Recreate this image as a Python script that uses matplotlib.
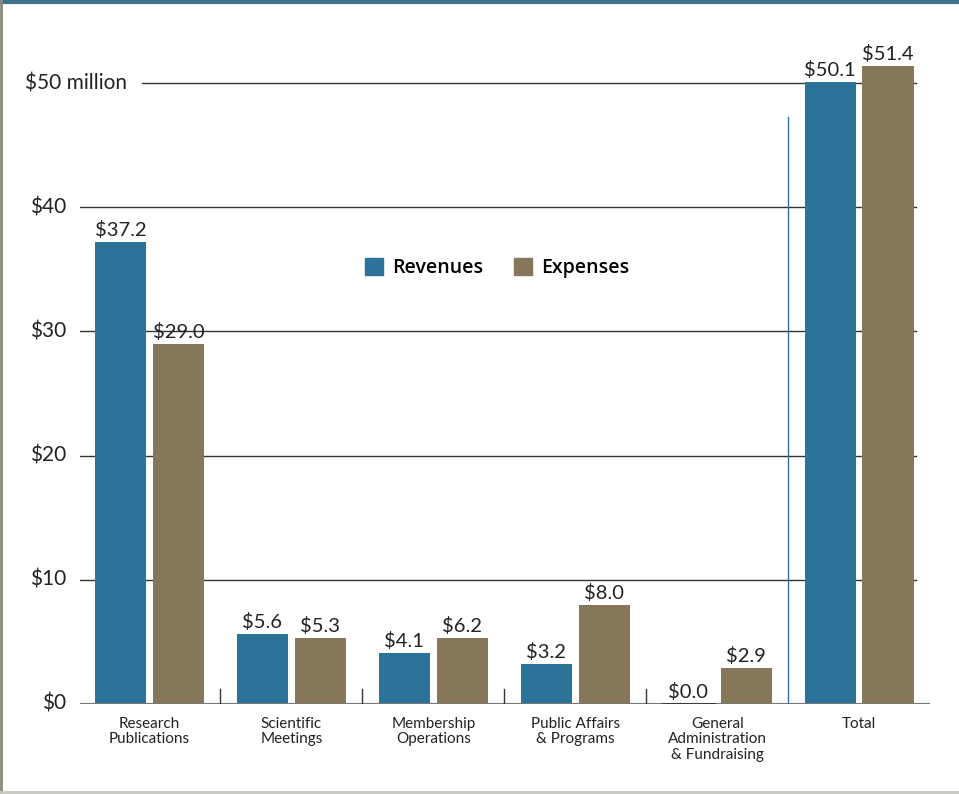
import numpy as np
import matplotlib.pyplot as plt
from matplotlib.patches import Rectangle
from matplotlib.lines import Line2D

# data (millions of dollars)
categories = ['Research\nPublications', 'Scientific\nMeetings', 'Membership\nOperations',
              'Public Affairs\n& Programs', 'General\nAdministration\n& Fundraising', 'Total']
revenues = [37.2, 5.6, 4.1, 3.2, 0.0, 50.1]
expenses = [29.0, 5.3, 5.3, 8.0, 2.9, 51.4]   # heights as drawn in the picture
rev_labels = ['$37.2', '$5.6', '$4.1', '$3.2', '$0.0', '$50.1']
exp_labels = ['$29.0', '$5.3', '$6.2', '$8.0', '$2.9', '$51.4']
yticks = [0, 10, 20, 30, 40, 50]
ytick_labels = ['$0', '$10', '$20', '$30', '$40', '$50 million']

rev_color = '#2b7399'
exp_color = '#87775a'
font = 'Lato'

fig = plt.figure(figsize=(9.59, 7.94), dpi=100)
ax = fig.add_axes([80 / 959, 90 / 794, 850 / 959, 652 / 794])
ax.set_xlim(-0.49, 5.5)
ax.set_ylim(0, 52.5)
for s in ax.spines.values():
    s.set_visible(False)
ax.set_xticks([])
ax.set_yticks([])

x = np.arange(len(categories))
w = 0.36
off = 0.204

# gridlines
for t in yticks[1:]:
    x0 = -0.05 if t == 50 else -0.49
    ax.plot([x0, 5.4], [t, t], color='#333333', lw=1, zorder=1)
ax.plot([-0.49, 5.5], [0, 0], color='#777777', lw=1.5, zorder=3)

# y labels
for t, lab in zip(yticks, ytick_labels):
    if t == 50:
        ax.annotate(lab, xy=(0, t), xycoords=('axes fraction', 'data'),
                    xytext=(-55, 0), textcoords='offset pixels',
                    ha='left', va='center', fontsize=15, family=font, color='#222222')
    else:
        ax.annotate(lab, xy=(0, t), xycoords=('axes fraction', 'data'),
                    xytext=(-14, 0), textcoords='offset pixels',
                    ha='right', va='center', fontsize=15, family=font, color='#222222')

ax.bar(x - off, revenues, w, color=rev_color, zorder=2)
ax.bar(x + off, expenses, w, color=exp_color, zorder=2)
# zero revenue bar shown as a thin line
ax.plot([4 - off - w / 2, 4 - off + w / 2], [0, 0], color='#333333', lw=2, zorder=4)

for i in range(len(categories)):
    ax.annotate(rev_labels[i], xy=(x[i] - off, revenues[i]), xytext=(0, 3),
                textcoords='offset pixels', ha='center', va='bottom',
                fontsize=14.5, family=font, color='#222222')
    ax.annotate(exp_labels[i], xy=(x[i] + off, expenses[i]), xytext=(0, 3),
                textcoords='offset pixels', ha='center', va='bottom',
                fontsize=14.5, family=font, color='#222222')
    ax.annotate(categories[i], xy=(x[i], 0), xytext=(0, -13),
                textcoords='offset pixels', ha='center', va='top',
                fontsize=11, family=font, color='#222222', linespacing=1.12)

# separators between groups
for s in [0.5, 1.5, 2.5, 3.5]:
    ax.plot([s, s], [0, 1.2], color='#333333', lw=1, zorder=3)
ax.plot([4.5, 4.5], [0, 47.3], color='#2f6f9f', lw=1, zorder=3)

# legend
handles = [Rectangle((0, 0), 1, 1, color=rev_color), Rectangle((0, 0), 1, 1, color=exp_color)]
fig.legend(handles, ['Revenues', 'Expenses'], loc='center', bbox_to_anchor=(497 / 959, 1 - 268 / 794),
           ncol=2, frameon=False, prop={'family': 'Open Sans', 'size': 14, 'weight': 'semibold'},
           handlelength=0.95, handleheight=0.95, handletextpad=0.45, columnspacing=1.6)

# frame around the figure
fig.add_artist(Line2D([0, 1], [0.998, 0.998], transform=fig.transFigure, color='#3f6f8a', lw=3))
fig.add_artist(Line2D([0.001, 0.001], [0, 1], transform=fig.transFigure, color='#8a8a80', lw=2))
fig.add_artist(Line2D([0, 1], [0.002, 0.002], transform=fig.transFigure, color='#c8c8c0', lw=2))

fig.savefig('out.png', dpi=100)
